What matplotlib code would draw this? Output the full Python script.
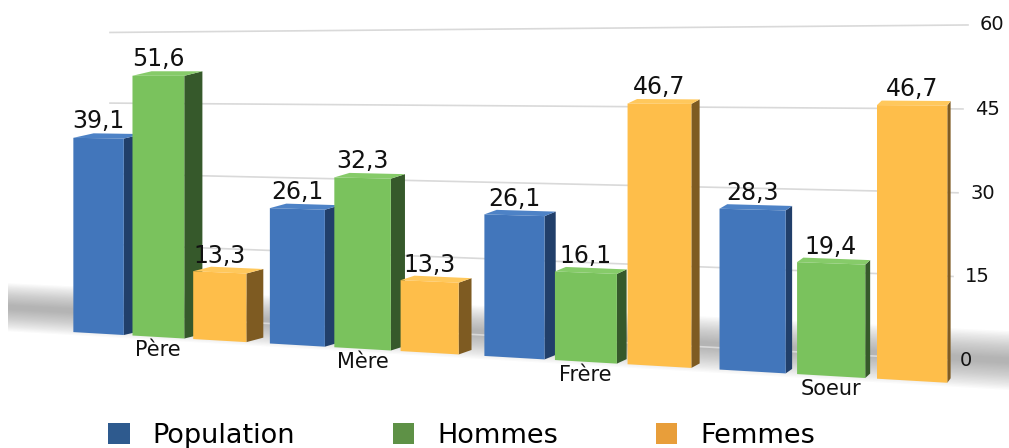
import numpy as np
import matplotlib
matplotlib.use('Agg')
import matplotlib.pyplot as plt
from matplotlib.transforms import Transform, Affine2D
from matplotlib.patches import Polygon, Patch

# =========================================================
# DATA
# =========================================================

categories = ['Père', 'Mère', 'Frère', 'Soeur']
series_names = ['Population', 'Hommes', 'Femmes']

population = [39.1, 26.1, 26.1, 28.3]
hommes = [51.6, 32.3, 16.1, 19.4]
femmes = [13.3, 13.3, 46.7, 46.7]

y_ticks = [0, 15, 30, 45, 60]

# =========================================================
# STYLE
# =========================================================

front_colors = ['#4276BB', '#7AC25D', '#FEBE4A']
side_colors = ['#213F6A', '#36592B', '#7E5B22']
top_colors = ['#4D82C6', '#86CB69', '#FFC85C']
legend_colors = ['#2E5A8E', '#5E9146', '#E89E3A']

# perspective of the view (pixels, y pointing down)
VX, VY = -4411.0, 72.0          # vanishing point
K, D = 106815.0, 23.377         # horizontal depth mapping
BAR_BASE, BAR_SCALE = 0.058, 0.001108
WALL_BASE, WALL_SCALE = 0.05374, 0.0010414
BAR_STEP, BAR_W = 0.31, 0.265

GRID_X0, GRID_X1, GRID_SLANT = 110, 948, 1 / 3


class Perspective(Transform):
    """(position, value) -> pixel, lines converge to the vanishing point."""
    input_dims = 2
    output_dims = 2

    def __init__(self, base, scale, k=None, d=None):
        super().__init__()
        self.base, self.scale, self.k, self.d = base, scale, k, d

    def transform_non_affine(self, values):
        values = np.asarray(values, dtype=float)
        pts = values.reshape(-1, 2)
        if self.k is None:
            p = pts[:, 0] - VX
        else:
            p = self.k / (self.d - pts[:, 0])
        out = np.column_stack([VX + p, VY + p * (self.base - self.scale * pts[:, 1])])
        return out.reshape(values.shape)


# =========================================================
# FIGURE
# =========================================================

fig = plt.figure(figsize=(10.09, 4.48), dpi=100)
ax = fig.add_axes([0, 0, 1, 1])
ax.set_xlim(0, 1009)
ax.set_ylim(448, 0)
ax.axis('off')

front = Perspective(BAR_BASE, BAR_SCALE, K, D)
wall = Perspective(WALL_BASE, WALL_SCALE)
back = Affine2D().scale(0.9806, 1).translate(21.69, -4.5)

T_front = front + ax.transData
T_wall = wall + ax.transData

# floor shadow behind the bars (soft band, darker in the middle)
n_layers = 20
for i in range(n_layers):
    half = 4.6 * (1 - i / n_layers) + 0.3
    ax.fill([-0.795, 3.95, 3.95, -0.795],
            [4.3 - half, 4.3 - half, 4.3 + half, 4.3 + half],
            color='#7a7a7a', alpha=0.035, lw=0,
            transform=T_front, zorder=0.3)

# grid lines + right axis labels
for tk in y_ticks:
    x_end = GRID_X1 + tk * GRID_SLANT
    ax.plot([GRID_X0, x_end], [tk, tk], color='#d9d9d9', lw=1.2,
            transform=T_wall, zorder=0.5)
    ax.text(x_end + 12, tk, str(tk), transform=T_wall, ha='left',
            va='center', fontsize=14, color='#111111')

# bars
values = [population, hommes, femmes]
for i in range(len(categories)):
    for j in range(len(series_names)):
        u = i + (j - 1) * BAR_STEP
        v = values[j][i]
        u0, u1 = u - BAR_W / 2, u + BAR_W / 2
        fl, fr, tl, tr = front.transform([(u0, 0), (u1, 0), (u0, v), (u1, v)])
        bl, br, btl, btr = back.transform([fl, fr, tl, tr])

        ax.add_patch(Polygon([fr, tr, btr, br], closed=True,
                             facecolor=side_colors[j], edgecolor='none'))
        ax.add_patch(Polygon([tl, tr, btr, btl], closed=True,
                             facecolor=top_colors[j], edgecolor='none'))
        ax.bar(u, v, BAR_W, color=front_colors[j], transform=T_front)

        ax.annotate(f'{v:.1f}'.replace('.', ','), xy=(u, v), xycoords=T_front,
                    xytext=(0, 7), textcoords='offset points',
                    ha='center', va='baseline', fontsize=17, color='#111111',
                    zorder=5)

    ax.annotate(categories[i], xy=(i, 0), xycoords=T_front,
                xytext=(0, -13.5), textcoords='offset points',
                ha='center', va='baseline', fontsize=15, color='#111111')

# legend
handles = [Patch(facecolor=c, edgecolor='none') for c in legend_colors]
fig.legend(handles, series_names, loc='upper left',
           bbox_to_anchor=(108, 423), bbox_transform=ax.transData,
           ncol=3, frameon=False, fontsize=19.5,
           handlelength=0.8, handleheight=0.8, handletextpad=0.85,
           columnspacing=3.6, borderpad=0, borderaxespad=0)

ax.set_xlim(0, 1009)
ax.set_ylim(448, 0)

fig.savefig('out.png', dpi=100)
